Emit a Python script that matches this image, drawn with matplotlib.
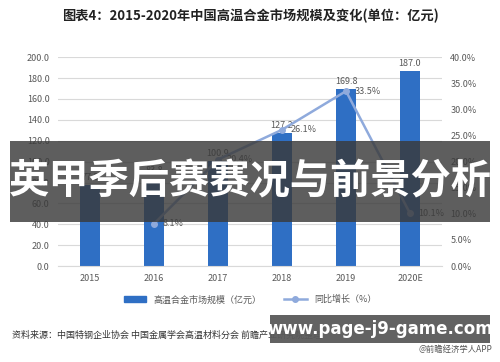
import matplotlib
matplotlib.use("Agg")
import matplotlib.pyplot as plt
from matplotlib.patches import Rectangle
from matplotlib.lines import Line2D
from matplotlib.patches import Patch

plt.rcParams['font.family'] = ['Noto Sans CJK SC', 'DejaVu Sans']

years = ['2015', '2016', '2017', '2018', '2019', '2020E']
market = [77.5, 83.8, 100.9, 127.2, 169.8, 187.0]
growth_years = ['2016', '2017', '2018', '2019', '2020E']
growth = [8.1, 20.4, 26.1, 33.5, 10.1]

bar_color = '#2F6FC4'
line_color = '#8FAADC'
tick_color = '#595959'

fig = plt.figure(figsize=(5, 3.62), dpi=100)
fig.patch.set_facecolor('white')

ax = fig.add_axes([0.116, 0.265, 0.768, 0.577])
x = list(range(len(years)))
ax.bar(x, market, width=0.31, color=bar_color, zorder=2)
for xi, v in zip(x, market):
    ax.text(xi, v + 3, f'{v:.1f}', ha='center', va='bottom', fontsize=6.5, color=tick_color)

ax.set_ylim(0, 200)
ax.set_yticks(range(0, 201, 20))
ax.set_yticklabels([f'{v:.1f}' for v in range(0, 201, 20)])
ax.set_xlim(-0.5, len(years) - 0.5)
ax.set_xticks(x)
ax.set_xticklabels(years)
ax.grid(axis='y', color='#D9D9D9', linewidth=0.8, zorder=0)
ax.set_axisbelow(True)
for s in ['top', 'right', 'left']:
    ax.spines[s].set_visible(False)
ax.spines['bottom'].set_color('#D9D9D9')
ax.tick_params(length=0, labelsize=6.5, colors=tick_color, pad=6)

ax2 = ax.twinx()
gx = [years.index(y) for y in growth_years]
ax2.plot(gx, growth, color=line_color, linewidth=1.8, marker='o', markersize=4, zorder=3)
for xi, g in zip(gx, growth):
    ax2.text(xi + 0.13, g, f'{g:.1f}%', ha='left', va='center', fontsize=6.5, color=tick_color)
ax2.set_ylim(0, 40)
ax2.set_yticks(range(0, 41, 5))
ax2.set_yticklabels([f'{v:.1f}%' for v in range(0, 41, 5)])
for s in ['top', 'right', 'left', 'bottom']:
    ax2.spines[s].set_visible(False)
ax2.tick_params(length=0, labelsize=6.5, colors=tick_color, pad=6)

fig.text(0.5, 0.955, '图表4：2015-2020年中国高温合金市场规模及变化(单位：亿元)',
         ha='center', va='center', fontsize=9.5, fontweight='bold', color='#222222')

handles = [Patch(color=bar_color),
           Line2D([0], [0], color=line_color, linewidth=1.8, marker='o', markersize=4)]
fig.legend(handles, ['高温合金市场规模（亿元）', '同比增长（%）'], loc='center',
           bbox_to_anchor=(0.5, 0.172), ncol=2, frameon=False, fontsize=6.5,
           labelcolor=tick_color, handlelength=2.5, columnspacing=2.5)

fig.text(0.024, 0.075, '资料来源：中国特钢企业协会 中国金属学会高温材料分会 前瞻产业研究院整理',
         ha='left', va='center', fontsize=6.5, color='#333333')
fig.text(0.984, 0.035, '@前瞻经济学人APP', ha='right', va='center', fontsize=6, color='#555555')

# overlay banner
fig.patches.append(Rectangle((0.02, 1 - 222 / 362), 0.96, 81 / 362, transform=fig.transFigure,
                             facecolor='#3A3A3A', alpha=0.82, edgecolor='none', zorder=10))
fig.text(0.5, 1 - 182 / 362, '英甲季后赛赛况与前景分析', ha='center', va='center',
         fontsize=29, fontweight='bold', color='white', zorder=11)

fig.patches.append(Rectangle((0.54, 1 - 343 / 362), 0.44, 28 / 362, transform=fig.transFigure,
                             facecolor='#5A5A5A', alpha=0.95, edgecolor='none', zorder=10))
fig.text(0.76, 1 - 329 / 362, 'www.page-j9-game.com', ha='center', va='center',
         fontsize=12, fontweight='bold', color='white', family=['DejaVu Sans'], zorder=11)

fig.savefig('out.png', dpi=100)
